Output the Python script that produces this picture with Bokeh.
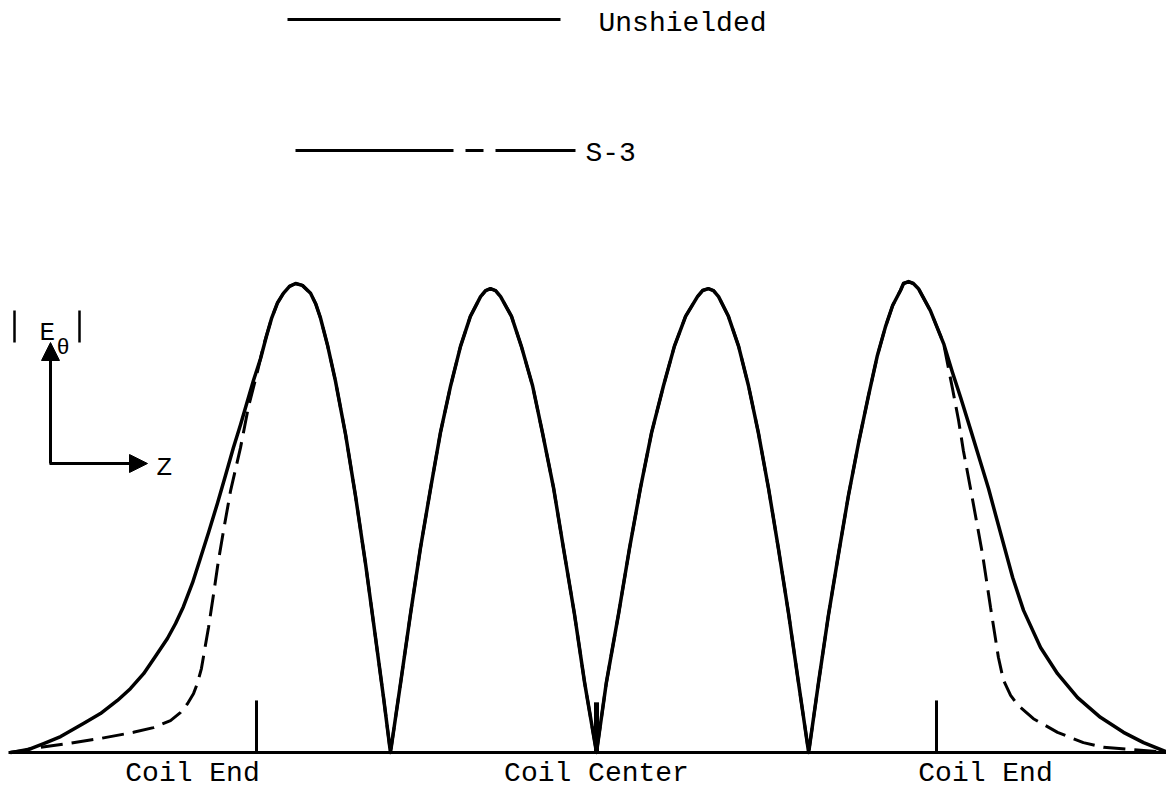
from bokeh.plotting import figure
from bokeh.models import Range1d, Arrow, NormalHead, ColumnDataSource
from bokeh.embed import file_html
from bokeh.resources import INLINE
from bokeh.core.properties import value

# Axial position z (percent of coil half-length, 0 = coil centre)
# and field magnitude |E_theta| (percent of the first peak).
z_unshielded = [
    -172.4, -167.9, -162.6, -157.6, -150.9, -145.9, -140.9, -137.1, -133.2, -129.7,
    -126.2, -123.8, -121.5, -118.8, -116.5, -114.1, -111.5, -109.1, -106.8, -104.7,
    -102.6, -100.9, -98.8, -97.1, -95.6, -93.8, -92.1, -90.3, -88.5, -86.5,
    -84.1, -82.6, -81.2, -79.1, -76.8, -73.8, -70.9, -67.9, -65.0, -62.6, -60.6,
    -57.6, -54.7, -51.8, -48.8, -45.9, -42.9, -40.0, -37.1, -34.1, -32.6, -31.2,
    -29.7, -28.2, -25.0, -22.1, -18.8, -15.9, -12.6, -9.7, -6.5, -3.5, 0.0,
    2.9, 6.5, 9.7, 12.9, 16.2, 19.7, 22.9, 26.2, 29.7, 31.2, 32.9,
    34.4, 35.9, 38.8, 41.8, 44.7, 47.6, 50.6, 53.5, 56.5, 59.4, 62.4,
    65.3, 68.2, 71.2, 74.1, 77.1, 80.0, 82.6, 85.0, 87.1, 89.4, 90.3, 91.8,
    93.2, 94.7, 98.2, 102.1, 104.7, 107.1, 110.0, 112.9, 115.3, 117.6, 120.0, 122.4, 125.6,
    130.6, 135.6, 141.5, 148.2, 155.0, 160.9, 167.4,
]
e_unshielded = [
    0.0, 0.4, 1.9, 3.4, 6.2, 8.3, 11.1, 13.6, 16.8, 20.5,
    24.3, 27.5, 31.1, 36.2, 41.4, 46.9, 53.1, 59.1, 65.0, 69.9,
    75.1, 79.3, 84.0, 88.7, 92.5, 95.9, 97.9, 99.4, 100.0, 99.6,
    97.9, 95.7, 92.7, 86.8, 79.3, 67.8, 54.8, 40.1, 24.5, 11.5, 0.0,
    14.9, 29.6, 43.5, 56.3, 68.2, 78.2, 86.6, 93.0, 97.2, 98.5, 98.9,
    98.5, 97.2, 93.0, 86.6, 78.2, 68.2, 56.3, 43.5, 29.6, 14.9, 0.0,
    14.9, 29.6, 43.5, 56.3, 68.2, 78.2, 86.6, 93.0, 97.2, 98.5, 98.9,
    98.5, 97.2, 93.0, 86.6, 78.2, 68.2, 56.3, 43.5, 29.6, 14.9, 0.0,
    14.9, 29.2, 42.4, 54.8, 66.1, 76.1, 84.6, 90.8, 95.3, 98.5, 100.0, 100.4,
    100.0, 98.9, 94.2, 87.2, 81.0, 75.7, 68.9, 62.0, 56.3, 50.1, 43.7, 37.3, 30.3,
    22.4, 16.8, 11.7, 7.5, 4.3, 2.1, 0.2,
]

# S-3 shield: falls off faster beyond the coil ends, coincides in between
z_s3_left = [
    -172.4, -165.6, -155.6, -145.9, -136.2, -130.3, -125.3, -122.4, -120.3, -118.5,
    -117.4, -116.2, -115.3, -114.1, -112.6, -111.2, -109.7, -107.6, -104.7, -102.4,
    -100.0, -97.9,
]
e_s3_left = [
    0.0, 0.9, 1.9, 3.0, 4.3, 5.3, 6.8, 8.5, 10.4, 12.6,
    14.7, 17.9, 21.7, 26.7, 33.9, 40.9, 47.3, 55.9, 65.0, 73.6,
    80.4, 86.8,
]
z_s3_right = [
    103.2, 104.7, 106.5, 107.9, 110.0, 112.1, 113.5, 114.7, 115.9, 117.1,
    118.2, 119.7, 121.8, 123.8, 128.5, 135.6, 143.2, 149.1, 157.9, 165.0,
]
e_s3_right = [
    83.1, 77.6, 70.8, 64.4, 56.3, 48.0, 42.4, 36.7, 30.9, 25.4,
    20.3, 15.4, 12.2, 10.2, 7.2, 4.3, 2.1, 1.1, 0.6, 0.2,
]
# shared middle section: from z = -95.6 up to z = 102.1
i0 = z_unshielded.index(-95.6)
i1 = z_unshielded.index(102.1) + 1
z_s3 = z_s3_left + z_unshielded[i0:i1] + z_s3_right
e_s3 = e_s3_left + e_unshielded[i0:i1] + e_s3_right

coil_marks = [-100.0, 0.0, 100.0]
coil_labels = ["Coil End", "Coil Center", "Coil End"]
series_names = ["Unshielded", "S-3"]

W, H = 1166, 789
FONT = value("Liberation Mono")
SIZE = "28px"
INK = "#000000"


# canvas-pixel helpers for placing annotation pieces
def zx(px):
    return (px - 596) / 3.4


def ey(py):
    return (752 - py) / 4.69


p = figure(
    width=W, height=H,
    x_range=Range1d(zx(0), zx(W)), y_range=Range1d(ey(H), ey(0)),
    output_backend="svg", toolbar_location=None,
    x_axis_location=None, y_axis_location=None,
    min_border=0, background_fill_color="white", border_fill_color="white",
)
p.grid.visible = False
p.outline_line_color = None

# z axis baseline
p.segment(x0=zx(8), y0=0, x1=zx(W), y1=0, line_color=INK, line_width=3)

# field curves
p.line(z_unshielded, e_unshielded, line_color=INK, line_width=3.5, line_join="round")
p.line(z_s3, e_s3, line_color=INK, line_width=3, line_dash="22 9")

# coil end / centre marks
marks = ColumnDataSource(dict(
    x=coil_marks, top=[11.1, 10.7, 11.1], w=[3, 5, 3],
    label=coil_labels, dx=[-64, 0, 49],
))
p.segment(x0="x", y0=0, x1="x", y1="top", line_width="w", line_color=INK, source=marks)
p.text(x="x", y=ey(773), text="label", x_offset="dx", source=marks,
       text_font=FONT, text_font_size=SIZE, text_align="center",
       text_baseline="alphabetic", text_color=INK)

# legend
p.line([zx(287), zx(560)], [ey(19), ey(19)], line_color=INK, line_width=3)
p.text(x=[zx(598)], y=[ey(23)], text=[series_names[0]], text_font=FONT,
       text_font_size=SIZE, text_baseline="alphabetic", text_color=INK)
p.line([zx(295), zx(575)], [ey(150), ey(150)], line_color=INK, line_width=3,
       line_dash="158 12 18 12 200 10")
p.text(x=[zx(585)], y=[ey(153)], text=[series_names[1]], text_font=FONT,
       text_font_size=SIZE, text_baseline="alphabetic", text_color=INK)

# |E_theta| / z direction key
p.add_layout(Arrow(end=NormalHead(size=18, line_color=INK, fill_color=INK),
                   x_start=zx(50), y_start=ey(463), x_end=zx(50), y_end=ey(342),
                   line_color=INK, line_width=3))
p.add_layout(Arrow(end=NormalHead(size=18, line_color=INK, fill_color=INK),
                   x_start=zx(49), y_start=ey(463), x_end=zx(147), y_end=ey(463),
                   line_color=INK, line_width=3))
p.segment(x0=[zx(14), zx(79)], y0=[ey(310), ey(310)], x1=[zx(14), zx(79)],
          y1=[ey(342), ey(342)], line_color=INK, line_width=2.5)
p.text(x=[zx(39)], y=[ey(332)], text=["E"], text_font=FONT, text_font_size="26px",
       text_baseline="alphabetic", text_color=INK)
p.text(x=[zx(56)], y=[ey(348)], text=["\u03b8"], text_font=FONT, text_font_size="22px",
       text_baseline="alphabetic", text_color=INK)
p.text(x=[zx(156)], y=[ey(467)], text=["Z"], text_font=FONT, text_font_size="26px",
       text_baseline="alphabetic", text_color=INK)

open("out.html", "w").write(file_html(p, INLINE))
